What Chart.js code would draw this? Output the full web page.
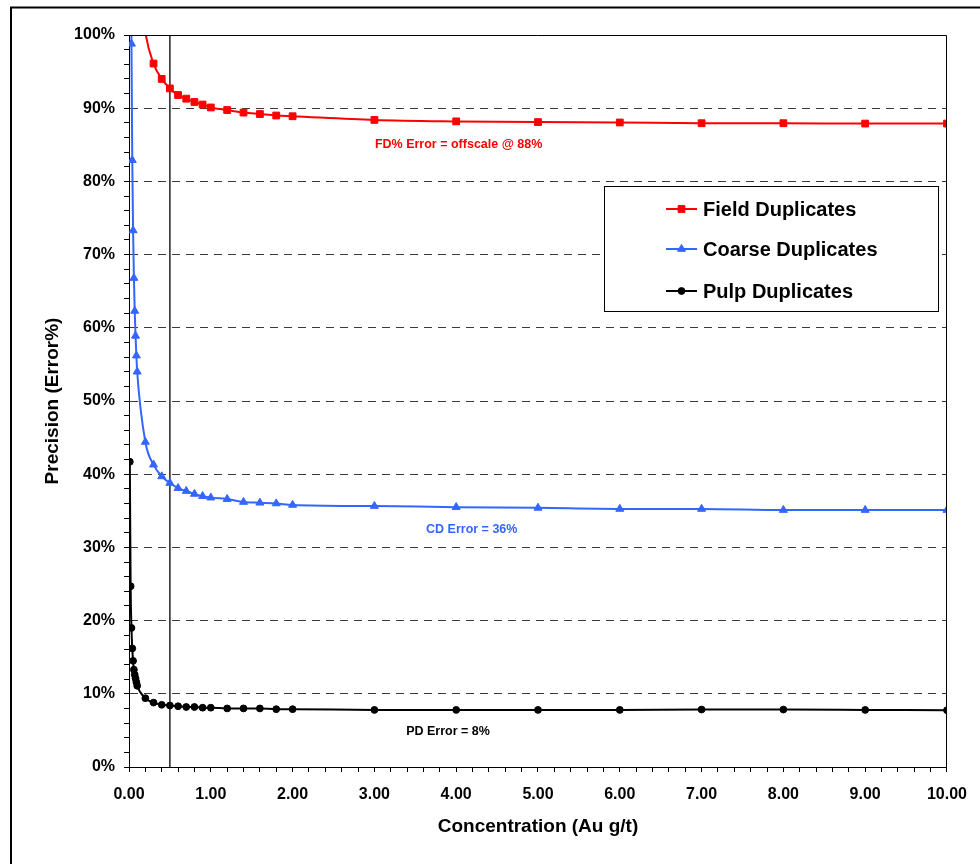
<!DOCTYPE html>
<html>
<head>
<meta charset="utf-8">
<title>Precision vs Concentration</title>
<script src="https://cdn.jsdelivr.net/npm/chart.js@4.4.1/dist/chart.umd.min.js"></script>
<style>
  html, body { margin: 0; padding: 0; background: #fff; }
  #wrap { width: 980px; height: 864px; }
</style>
</head>
<body>
<div id="wrap"><canvas id="precisionChart" width="980" height="864"></canvas></div>
<script>
// Au concentration steps (g/t)
const concentration = [0.01, 0.02, 0.03, 0.04, 0.05, 0.06, 0.07, 0.08, 0.09, 0.10,
  0.20, 0.30, 0.40, 0.50, 0.60, 0.70, 0.80, 0.90, 1.00,
  1.20, 1.40, 1.60, 1.80, 2.00,
  3.00, 4.00, 5.00, 6.00, 7.00, 8.00, 9.00, 10.00];

// precision (error %) per duplicate type; low-grade field/coarse values run off the top
const fieldDup = [330, 205, 165, 145, 135, 127, 122, 117, 114, 111,
  100.4, 96.1, 94.0, 92.7, 91.8, 91.3, 90.85, 90.5, 90.1,
  89.75, 89.4, 89.2, 89.0, 88.9,
  88.4, 88.2, 88.1, 88.05, 87.95, 87.95, 87.9, 87.9];
const coarseDup = [215, 125, 98.8, 82.9, 73.3, 66.8, 62.3, 58.9, 56.2, 54.0,
  44.4, 41.3, 39.7, 38.8, 38.1, 37.7, 37.3, 37.0, 36.8,
  36.6, 36.2, 36.1, 36.0, 35.8,
  35.65, 35.5, 35.4, 35.25, 35.25, 35.1, 35.1, 35.1];
const pulpDup = [41.7, 24.7, 19.0, 16.2, 14.5, 13.3, 12.6, 12.1, 11.6, 11.1,
  9.4, 8.8, 8.5, 8.4, 8.3, 8.2, 8.2, 8.1, 8.1,
  8.0, 8.0, 8.0, 7.9, 7.9,
  7.8, 7.8, 7.8, 7.8, 7.85, 7.85, 7.8, 7.75];

// 0.5 g/t reference line
const cutoffX = [0.5, 0.5];
const cutoffY = [0, 100];

const seriesLabels = ['Field Duplicates', 'Coarse Duplicates', 'Pulp Duplicates'];
const errorNotes = ['FD% Error = offscale @ 88%', 'CD Error = 36%', 'PD Error = 8%'];

const FONT = "'Liberation Sans', Arial, sans-serif";
const RED = '#ff0000';
const BLUE = '#3366ff';
const BLACK = '#000000';

function toPoints(xs, ys) {
  return xs.map((x, i) => ({ x: x, y: ys[i] }));
}

function isWhole(v, step) {
  const r = Math.round(v / step) * step;
  return Math.abs(v - r) < 1e-6;
}

// white page with the heavy outer frame
const framePlugin = {
  id: 'frame',
  beforeDraw(chart) {
    const ctx = chart.ctx;
    ctx.save();
    ctx.fillStyle = '#fff';
    ctx.fillRect(0, 0, chart.width, chart.height);
    ctx.strokeStyle = '#000';
    ctx.lineWidth = 2;
    ctx.strokeRect(11, 7.5, chart.width + 40, chart.height + 40);
    ctx.restore();
  },
  afterDraw(chart) {
    const a = chart.chartArea;
    const ctx = chart.ctx;
    ctx.save();
    ctx.strokeStyle = '#000';
    ctx.lineWidth = 1;
    const t = Math.round(a.top) + 0.5;
    const r = Math.round(a.right) - 0.5;
    ctx.beginPath();
    ctx.moveTo(a.left, t);
    ctx.lineTo(r, t);
    ctx.lineTo(r, a.bottom);
    ctx.stroke();
    ctx.restore();
  }
};

// error notes placed in data space
const notesPlugin = {
  id: 'notes',
  afterDatasetsDraw(chart) {
    const { ctx, scales: { x, y } } = chart;
    const notes = [
      { text: errorNotes[0], at: [4.03, 85.0], color: RED },
      { text: errorNotes[1], at: [4.19, 32.5], color: BLUE },
      { text: errorNotes[2], at: [3.90, 4.9], color: BLACK }
    ];
    ctx.save();
    ctx.font = 'bold 12.5px ' + FONT;
    ctx.textAlign = 'center';
    ctx.textBaseline = 'middle';
    notes.forEach(n => {
      ctx.fillStyle = n.color;
      ctx.fillText(n.text, x.getPixelForValue(n.at[0]), y.getPixelForValue(n.at[1]));
    });
    ctx.restore();
  }
};

// boxed legend inside the plot
const legendBoxPlugin = {
  id: 'legendBox',
  afterDraw(chart) {
    const ctx = chart.ctx;
    const box = { x: 604.5, y: 186.5, w: 334, h: 125 };
    const rows = [209, 249, 291];
    ctx.save();
    ctx.fillStyle = '#fff';
    ctx.fillRect(box.x, box.y, box.w, box.h);
    ctx.strokeStyle = '#000';
    ctx.lineWidth = 1;
    ctx.strokeRect(box.x, box.y, box.w, box.h);
    ctx.font = 'bold 20px ' + FONT;
    ctx.textBaseline = 'middle';
    ctx.textAlign = 'left';
    seriesLabels.forEach((label, i) => {
      const ds = chart.data.datasets[i];
      const yy = rows[i];
      ctx.strokeStyle = ds.borderColor;
      ctx.lineWidth = 2;
      ctx.beginPath();
      ctx.moveTo(666, yy);
      ctx.lineTo(697, yy);
      ctx.stroke();
      ctx.fillStyle = ds.pointBackgroundColor;
      ctx.strokeStyle = ds.pointBorderColor;
      ctx.lineWidth = 1;
      Chart.helpers.drawPoint(ctx, {
        pointStyle: ds.pointStyle, radius: ds.pointRadius, rotation: 0, borderWidth: 1
      }, 681.5, yy);
      ctx.fillStyle = '#000';
      ctx.fillText(label, 703, yy + 1);
    });
    ctx.restore();
  }
};

function series(label, ys, color, style, radius) {
  return {
    label: label,
    data: toPoints(concentration, ys),
    borderColor: color,
    backgroundColor: color,
    pointBackgroundColor: color,
    pointBorderColor: color,
    pointBorderWidth: 1,
    pointStyle: style,
    pointRadius: radius,
    borderWidth: 2,
    cubicInterpolationMode: 'monotone',
    clip: 0
  };
}

const ctx = document.getElementById('precisionChart').getContext('2d');
const precisionChart = new Chart(ctx, {
  type: 'line',
  data: {
    datasets: [
      series(seriesLabels[0], fieldDup, RED, 'rect', 4.8),
      series(seriesLabels[1], coarseDup, BLUE, 'triangle', 4.6),
      series(seriesLabels[2], pulpDup, BLACK, 'circle', 3.4),
      {
        label: '0.5 g/t',
        data: toPoints(cutoffX, cutoffY),
        borderColor: BLACK,
        borderWidth: 1.3,
        pointRadius: 0,
        clip: 0
      }
    ]
  },
  options: {
    responsive: false,
    animation: false,
    events: [],
    layout: { padding: { top: 35, right: 33, left: 0, bottom: 0 } },
    plugins: {
      legend: { display: false },
      tooltip: { enabled: false }
    },
    scales: {
      x: {
        type: 'linear',
        min: 0,
        max: 10,
        afterFit(scale) { scale.height = 97; },
        ticks: {
          stepSize: 0.2,
          autoSkip: false,
          maxRotation: 0,
          padding: 13,
          color: '#000',
          font: { family: FONT, size: 16, weight: 'bold' },
          callback: v => isWhole(v, 1) ? v.toFixed(2) : ''
        },
        grid: {
          drawOnChartArea: false,
          color: '#000',
          tickColor: '#000',
          tickLength: 5
        },
        border: { color: '#000', width: 1 },
        title: {
          display: true,
          text: 'Concentration (Au g/t)',
          color: '#000',
          font: { family: FONT, size: 19, weight: 'bold' },
          padding: { top: 0, bottom: 26 }
        }
      },
      y: {
        type: 'linear',
        min: 0,
        max: 100,
        afterFit(scale) { scale.width = 129; },
        ticks: {
          stepSize: 2,
          autoSkip: false,
          padding: 9,
          color: '#000',
          font: { family: FONT, size: 16, weight: 'bold' },
          callback: v => isWhole(v, 10) ? Math.round(v) + '%' : ''
        },
        grid: {
          color: c => (c.tick && isWhole(c.tick.value, 10) && c.tick.value > 0 && c.tick.value < 100)
            ? '#3a3a3a' : 'rgba(0,0,0,0)',
          tickColor: '#000',
          tickLength: 5,
          lineWidth: 1,
          tickBorderDash: []
        },
        border: { color: '#000', width: 1, dash: [8, 6] },
        title: {
          display: true,
          text: 'Precision (Error%)',
          color: '#000',
          font: { family: FONT, size: 19, weight: 'bold' },
          padding: { top: 41, bottom: 0 }
        }
      }
    }
  },
  plugins: [framePlugin, notesPlugin, legendBoxPlugin]
});
</script>
</body>
</html>
